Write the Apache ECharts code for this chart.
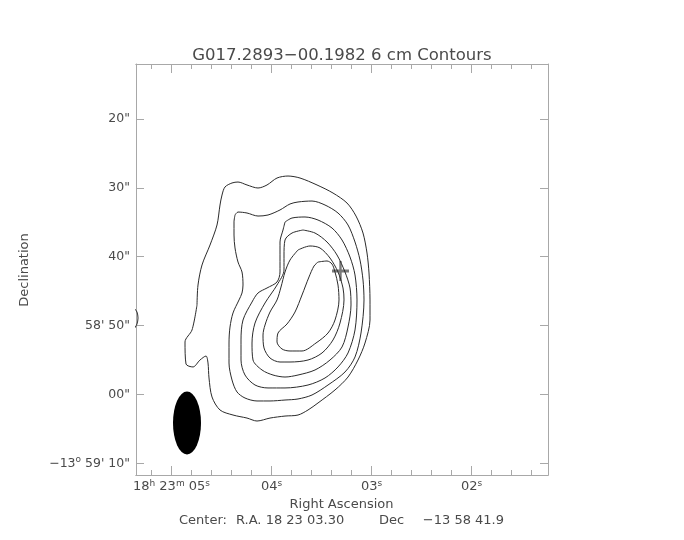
<!DOCTYPE html>
<html><head><meta charset="utf-8">
<script src="https://cdn.jsdelivr.net/npm/echarts@6/dist/echarts.min.js"></script>
<style>html,body{margin:0;padding:0;background:#fff}#c{width:684px;height:540px}</style>
</head><body><div id="c"></div>
<script>
const titleText = 'G017.2893\u221200.1982 6 cm Contours';
const xAxisTitle = 'Right Ascension';
const yAxisTitle = 'Declination';
const centerParts = ['Center:', 'R.A. 18 23 03.30', 'Dec', '\u221213 58 41.9'];

// RA in seconds of time (18h 23m xx s), Dec in arcsec past -13deg 58' 00"
const raRange = [1.235, 5.355];
const decRange = [12.01, 71.70];
const raMajorTicks = [2, 3, 4, 5];
const raMajorLabels = ['02^s', '03^s', '04^s', '18^h 23^m 05^s'];
const raMinorTicks = [1.4, 1.6, 1.8, 2.2, 2.4, 2.6, 2.8, 3.2, 3.4, 3.6, 3.8, 4.2, 4.4, 4.6, 4.8, 5.2];
const decTicks = [20, 30, 40, 50, 60, 70];
const decLabels = ['20"', '30"', '40"', "58' 50\"", '00"', "\u221213^o 59' 10\""];

const contour1 = [[4.745,47.01],[4.735,44.11],[4.695,41.20],[4.615,38.30],[4.545,35.39],[4.515,32.49],[4.495,31.04],[4.465,29.87],[4.395,29.29],[4.335,29.15],[4.245,29.58],[4.135,30.02],[4.045,29.58],[3.945,28.57],[3.835,28.28],[3.715,28.57],[3.545,29.58],[3.385,30.75],[3.245,32.20],[3.155,34.09],[3.085,36.56],[3.045,39.46],[3.025,42.36],[3.015,46.28],[3.015,49.19],[3.065,52.53],[3.135,55.00],[3.235,57.47],[3.365,59.35],[3.535,61.24],[3.635,62.26],[3.735,62.99],[3.865,63.14],[4.015,63.43],[4.145,63.86],[4.245,63.43],[4.385,62.99],[4.515,62.26],[4.595,60.37],[4.625,57.61],[4.635,55.43],[4.655,54.42],[4.715,55.00],[4.785,56.01],[4.855,55.58],[4.865,52.38],[4.795,50.64]];
const contour2 = [[4.365,33.94],[4.335,33.51],[4.245,33.65],[4.135,34.09],[4.035,33.94],[3.915,33.21],[3.815,32.34],[3.735,32.05],[3.595,31.91],[3.465,32.49],[3.335,33.65],[3.235,35.39],[3.165,37.86],[3.115,40.48],[3.085,43.38],[3.075,46.28],[3.105,51.08],[3.165,54.56],[3.265,56.74],[3.435,58.63],[3.595,60.08],[3.735,60.66],[3.865,60.81],[4.015,60.95],[4.145,60.95],[4.265,60.52],[4.345,59.64],[4.395,57.90],[4.425,55.43],[4.425,52.53],[4.415,50.21],[4.385,48.17],[4.325,46.28],[4.295,45.27],[4.285,44.11],[4.295,42.22],[4.335,40.77],[4.365,38.73],[4.375,36.85],[4.375,34.96]];
const contour3 = [[3.865,34.96],[3.795,34.38],[3.665,34.23],[3.535,34.67],[3.395,35.83],[3.295,37.57],[3.215,40.04],[3.165,42.65],[3.145,46.28],[3.165,50.64],[3.235,53.98],[3.335,56.01],[3.465,57.61],[3.635,58.63],[3.865,59.06],[4.035,59.06],[4.165,58.63],[4.265,57.18],[4.305,55.00],[4.305,52.09],[4.285,49.19],[4.195,46.58],[4.135,45.27],[4.045,44.54],[3.945,43.67],[3.915,42.22],[3.915,40.19],[3.915,37.86],[3.885,36.12]];
const contour4 = [[3.685,36.12],[3.795,36.56],[3.865,37.57],[3.875,39.75],[3.875,41.93],[3.945,44.11],[4.065,46.72],[4.165,49.63],[4.195,52.53],[4.185,55.00],[4.095,56.45],[3.985,57.18],[3.865,57.47],[3.735,57.18],[3.565,56.45],[3.415,55.00],[3.295,53.11],[3.235,50.21],[3.205,47.01],[3.215,44.54],[3.265,42.22],[3.345,39.75],[3.445,37.86],[3.565,36.56]];
const contour5 = [[3.735,39.02],[3.815,40.48],[3.865,42.22],[3.905,44.40],[3.945,46.28],[4.015,48.03],[4.065,49.92],[4.085,51.37],[4.075,53.25],[4.015,54.71],[3.915,55.29],[3.815,55.29],[3.635,55.00],[3.495,53.98],[3.385,52.09],[3.315,49.63],[3.275,46.28],[3.285,44.54],[3.335,42.22],[3.415,40.19],[3.515,38.73],[3.615,38.44]];
const contour6 = [[3.535,40.77],[3.445,40.62],[3.395,41.06],[3.365,42.22],[3.335,44.11],[3.325,46.28],[3.365,49.19],[3.435,51.08],[3.555,52.53],[3.695,53.69],[3.815,53.69],[3.895,53.40],[3.945,52.38],[3.935,51.08],[3.845,49.77],[3.765,48.03],[3.695,45.56],[3.625,42.94],[3.575,41.35]];
const edgeContour = [[5.375,47.45],[5.345,48.03],[5.335,48.90],[5.345,49.77],[5.375,50.50]];
const closedContours = [contour1, contour2, contour3, contour4, contour5, contour6];
const beamCenter = [[4.845, 64.15]];
const peakPosition = [[3.31, 42.07]];

const TXT = '#4a4a4a', AX = '#a8a8a8', FONT = 'DejaVu Sans';
function toRich(s) { return s.replace(/\^(.)/g, '{s|$1}'); }
function labelFor(ticks, labels) {
  return function (v) {
    const i = ticks.findIndex(t => Math.abs(t - v) < 1e-6);
    return i < 0 ? '' : toRich(labels[i]);
  };
}
const richSup = { s: { fontSize: 9, fontFamily: FONT, color: TXT, padding: [0, 0, 7, 0] } };

function xAx(pos, ticks, len, withLabel) {
  return {
    type: 'value', position: pos, min: raRange[0], max: raRange[1], inverse: true,
    axisLine: { show: true, onZero: false, lineStyle: { color: AX, width: 1 } },
    axisTick: { show: true, inside: true, length: len, customValues: ticks, lineStyle: { color: AX } },
    axisLabel: withLabel ? { show: true, customValues: ticks, formatter: labelFor(raMajorTicks, raMajorLabels),
      color: TXT, fontSize: 13, fontFamily: FONT, margin: 4, rich: richSup } : { show: false },
    splitLine: { show: false }
  };
}
function yAx(pos, withLabel) {
  return {
    type: 'value', position: pos, min: decRange[0], max: decRange[1], inverse: true,
    axisLine: { show: true, onZero: false, lineStyle: { color: AX, width: 1 } },
    axisTick: { show: true, inside: true, length: 8, customValues: decTicks, lineStyle: { color: AX } },
    axisLabel: withLabel ? { show: true, customValues: decTicks, formatter: labelFor(decTicks, decLabels),
      color: TXT, fontSize: 12.5, fontFamily: FONT, margin: 6, rich: richSup } : { show: false },
    splitLine: { show: false }
  };
}

const chart = echarts.init(document.getElementById('c'), null, { renderer: 'canvas' });
const series = closedContours.map(d => ({
  type: 'line', data: d.concat([d[0]]), smooth: 0.3, symbol: 'none', silent: true,
  lineStyle: { color: '#2b2b2b', width: 1 }, clip: true, xAxisIndex: 0, yAxisIndex: 0
}));
series.push({ type: 'line', data: edgeContour, smooth: 0.3, symbol: 'none', silent: true,
  lineStyle: { color: '#2b2b2b', width: 1 }, clip: true });
series.push({ type: 'scatter', data: beamCenter, symbol: 'circle', symbolSize: [28, 63],
  itemStyle: { color: '#000', opacity: 1 }, silent: true });
series.push({ type: 'scatter', data: peakPosition,
  symbol: 'path://M0,8.6L20,8.6L20,11.4L0,11.4Z M8.6,0L11.4,0L11.4,20L8.6,20Z', symbolSize: [17, 20],
  itemStyle: { color: '#7a7a7a', opacity: 1 }, silent: true });

const ctxt = (text, x, align) => ({ type: 'text', x: x, y: 521,
  style: { text: text, font: '13px ' + FONT, fill: TXT, align: align, verticalAlign: 'middle' } });

chart.setOption({
  animation: false,
  backgroundColor: '#fff',
  title: { text: titleText, left: 'center', top: 42,
    textStyle: { color: TXT, fontSize: 16.5, fontWeight: 'normal', fontFamily: FONT } },
  grid: { left: 136, top: 64, width: 412, height: 411 },
  xAxis: [xAx('bottom', raMajorTicks, 9, true), xAx('bottom', raMinorTicks, 5, false),
          xAx('top', raMajorTicks, 9, false), xAx('top', raMinorTicks, 5, false)],
  yAxis: [yAx('left', true), yAx('right', false)],
  series: series,
  graphic: [
    { type: 'text', x: 341.5, y: 505, style: { text: xAxisTitle, font: '13px ' + FONT, fill: TXT, align: 'center', verticalAlign: 'middle' } },
    ctxt(centerParts[0], 179, 'left'),
    ctxt(centerParts[1], 236, 'left'),
    ctxt(centerParts[2], 379, 'left'),
    ctxt(centerParts[3], 504, 'right'),
    { type: 'text', x: 25, y: 270, rotation: Math.PI / 2, style: { text: yAxisTitle, font: '13px ' + FONT, fill: TXT, align: 'center', verticalAlign: 'middle' } }
  ]
});
</script></body></html>
